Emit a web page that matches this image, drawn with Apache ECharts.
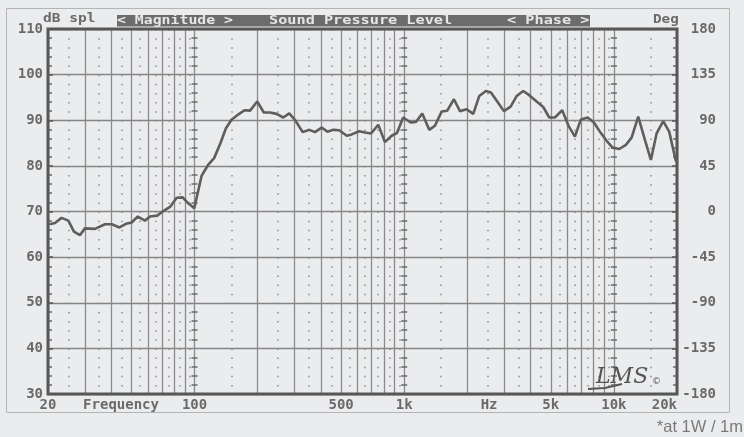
<!DOCTYPE html>
<html><head><meta charset="utf-8">
<script src="https://cdn.jsdelivr.net/npm/echarts@6/dist/echarts.min.js"></script>
<style>html,body{margin:0;padding:0;background:#ebecee;}#c{width:744px;height:437px;}</style>
</head><body><div id="c"></div>
<script>
// ---- data ----
const freqs = [20, 20.8, 21.6, 23.2, 25.0, 26.6, 28.4, 30.0, 33.5, 37.4,
  40.3, 43.8, 47.1, 50.1, 53.6, 58.0, 61.3, 66.4, 70.9, 76.4,
  82.2, 87.8, 93.3, 99.7, 108, 116, 124, 133, 141, 150,
  162, 173, 184, 199, 214, 229, 246, 265, 283, 301,
  328, 353, 375, 404, 430, 459, 490, 532, 562, 610,
  650, 694, 752, 809, 871, 923, 989, 1073, 1137, 1219,
  1316, 1401, 1508, 1604, 1726, 1844, 1985, 2134, 2279, 2453,
  2592, 2778, 2989, 3217, 3436, 3695, 3947, 4282, 4603, 4917,
  5233, 5671, 6104, 6520, 6941, 7494, 8031, 8579, 9233, 9862,
  10604, 11412, 12149, 13063, 14059, 15016, 15986, 17190, 18360, 19694, 20000];
const spl = [67.2, 67.3, 67.5, 68.6, 68.0, 65.6, 64.8, 66.3, 66.2, 67.2,
  67.2, 66.5, 67.3, 67.6, 68.9, 68.0, 68.9, 69.1, 70.1, 71.0,
  73.0, 73.1, 71.8, 70.7, 77.8, 80.2, 81.7, 85.0, 88.2, 90.1,
  91.3, 92.2, 92.1, 94.1, 91.7, 91.7, 91.4, 90.6, 91.5, 90.1,
  87.4, 87.9, 87.4, 88.4, 87.5, 87.9, 87.8, 86.6, 86.9, 87.6,
  87.3, 87.1, 89.0, 85.2, 86.6, 87.2, 90.6, 89.5, 89.6, 91.5,
  87.9, 88.8, 91.9, 92.1, 94.6, 92.0, 92.4, 91.4, 95.3, 96.4,
  96.1, 94.1, 92.0, 93.0, 95.3, 96.4, 95.5, 94.1, 92.9, 90.6,
  90.6, 92.2, 88.6, 86.4, 90.1, 90.6, 89.5, 87.5, 85.5, 84.0,
  83.7, 84.6, 86.2, 90.8, 85.7, 81.3, 87.1, 89.8, 87.5, 81.3, 80.8];
const gridFreqs = [20,30,40,50,60,70,80,90,100,200,300,400,500,600,700,800,900,
  1000,2000,3000,4000,5000,6000,7000,8000,9000,10000,20000];
const dotFreqs = [25,35,45,55,65,75,85,95,150,250,350,450,550,650,750,850,950,
  1500,2500,3500,4500,5500,6500,7500,8500,9500,15000];
const labelFreqs = [20, 44.6, 100, 500, 1000, 2540, 5000, 10000, 20000];
const labelTexts = ['20', 'Frequency', '100', '500', '1k', 'Hz', '5k', '10k', '20k'];
const tickLineFreqs = [100, 1000, 10000];
const splRange = [30, 110, 10];
const phaseRange = [-180, 180, 45];
const fMin = 20, fMax = 20000;

// ---- layout ----
const G = {left: 48, top: 29, width: 629, height: 365};
const lg = v => Math.log10(v);
const X0 = lg(fMin), X1 = lg(fMax);
const mono = '"DejaVu Sans Mono", monospace';
const labelColor = '#6a6a6a';

const chart = echarts.init(document.getElementById('c'), null, {renderer: 'canvas'});

const tickAxes = tickLineFreqs.map(f => {
  const x = G.left + (lg(f) - X0) / (X1 - X0) * G.width;
  return {
    type: 'value', gridIndex: 0, position: 'left', offset: -(x - 3 - G.left),
    min: splRange[0], max: splRange[1], interval: splRange[2],
    axisLine: {show: false}, axisLabel: {show: false}, splitLine: {show: false},
    axisTick: {show: false},
    minorTick: {show: true, splitNumber: 5, length: 6, lineStyle: {color: '#6a6a6a', width: 1.5}}
  };
});
// minor ticks should point inward for these axes
tickAxes.forEach(a => { a.axisTick.inside = true; });

const option = {
  backgroundColor: '#ebecee',
  animation: false,
  grid: {left: G.left, top: G.top, width: G.width, height: G.height, show: true,
    borderColor: '#575757', borderWidth: 3, backgroundColor: 'transparent', z: 3},
  xAxis: [
    {
      type: 'value', min: X0, max: X1,
      axisLine: {show: false},
      axisTick: {show: false, customValues: gridFreqs.map(lg)},
      splitLine: {show: true, lineStyle: {color: '#8a8a8a', width: 1.3}},
      axisLabel: {
        customValues: labelFreqs.map(lg), margin: 4,
        fontFamily: mono, fontWeight: 'bold', fontSize: 14, color: labelColor,
        alignMaxLabel: 'right',
        formatter: v => {
          const i = labelFreqs.findIndex(f => Math.abs(lg(f) - v) < 1e-6);
          return i >= 0 ? labelTexts[i] : '';
        }
      }
    },
    {
      type: 'value', min: X0, max: X1, position: 'bottom',
      axisLine: {show: false}, axisLabel: {show: false},
      axisTick: {show: false, customValues: dotFreqs.map(lg)},
      splitLine: {show: true, lineStyle: {color: '#8c8c8c', width: 1.5, type: [1.5, 7.625]}}
    }
  ],
  yAxis: [
    {
      type: 'value', min: splRange[0], max: splRange[1], interval: splRange[2],
      axisLine: {show: false},
      axisTick: {show: true, inside: true, length: 5, lineStyle: {color: '#575757', width: 1.5}},
      minorTick: {show: true, splitNumber: 5, length: 4, lineStyle: {color: '#6a6a6a', width: 1.5}},
      splitLine: {show: true, lineStyle: {color: '#858585', width: 1.3}},
      axisLabel: {margin: 5, fontFamily: mono, fontWeight: 'bold', fontSize: 14, color: labelColor}
    },
    {
      type: 'value', position: 'right', min: phaseRange[0], max: phaseRange[1], interval: phaseRange[2],
      axisLine: {show: false},
      axisTick: {show: true, inside: true, length: 5, lineStyle: {color: '#575757', width: 1.5}},
      minorTick: {show: true, splitNumber: 5, length: 4, lineStyle: {color: '#6a6a6a', width: 1.5}},
      splitLine: {show: false},
      axisLabel: {margin: 39, align: 'right', fontFamily: mono, fontWeight: 'bold', fontSize: 14, color: labelColor}
    },
    ...tickAxes
  ],
  series: [{
    type: 'line', xAxisIndex: 0, yAxisIndex: 0,
    data: freqs.map((f, i) => [lg(f), spl[i]]),
    showSymbol: false, symbol: 'none', smooth: false,
    lineStyle: {color: '#5e5e5e', width: 2.6}, z: 4
  }],
  graphic: [
    {type: 'rect', z: -10, silent: true, shape: {x: 6.5, y: 8.5, width: 723, height: 404},
      style: {fill: '#ebecee', stroke: '#b4b4b4', lineWidth: 1}},
    {type: 'text', x: 43, y: 19, scaleX: 1.12, style: {text: 'dB spl', font: 'bold 13px ' + mono, fill: labelColor, verticalAlign: 'middle'}},
    {type: 'rect', shape: {x: 117, y: 15, width: 473, height: 11.5}, style: {fill: '#6c6c6c'}},
    {type: 'text', x: 117, y: 21, scaleX: 1.14, style: {text: '< Magnitude >', font: 'bold 13px ' + mono, fill: '#e6e6e6', verticalAlign: 'middle'}},
    {type: 'text', x: 269, y: 21, scaleX: 1.17, style: {text: 'Sound Pressure Level', font: 'bold 13px ' + mono, fill: '#e6e6e6', verticalAlign: 'middle'}},
    {type: 'text', x: 507, y: 21, scaleX: 1.17, style: {text: '< Phase >', font: 'bold 13px ' + mono, fill: '#e6e6e6', verticalAlign: 'middle'}},
    {type: 'text', x: 653, y: 20, scaleX: 1.1, style: {text: 'Deg', font: 'bold 13px ' + mono, fill: labelColor, verticalAlign: 'middle'}},
    {type: 'text', x: 743, y: 427, style: {text: '*at 1W / 1m', font: '16.5px "Liberation Sans", Arial, sans-serif', fill: '#7a7a7a', align: 'right', verticalAlign: 'middle'}},
    {type: 'text', x: 596, y: 377, z: 10, style: {text: 'LMS', font: 'italic 22px "DejaVu Serif", serif', fill: '#555', verticalAlign: 'middle'}},
    {type: 'text', x: 652, y: 382, z: 10, style: {text: '©', font: '9px "DejaVu Sans", sans-serif', fill: '#555', verticalAlign: 'middle'}},
    {type: 'polyline', z: 10, shape: {points: [[588, 389], [605, 388], [622, 384]]}, style: {stroke: '#555', lineWidth: 1.8, fill: null}}
  ]
};
chart.setOption(option);
</script>
</body></html>
